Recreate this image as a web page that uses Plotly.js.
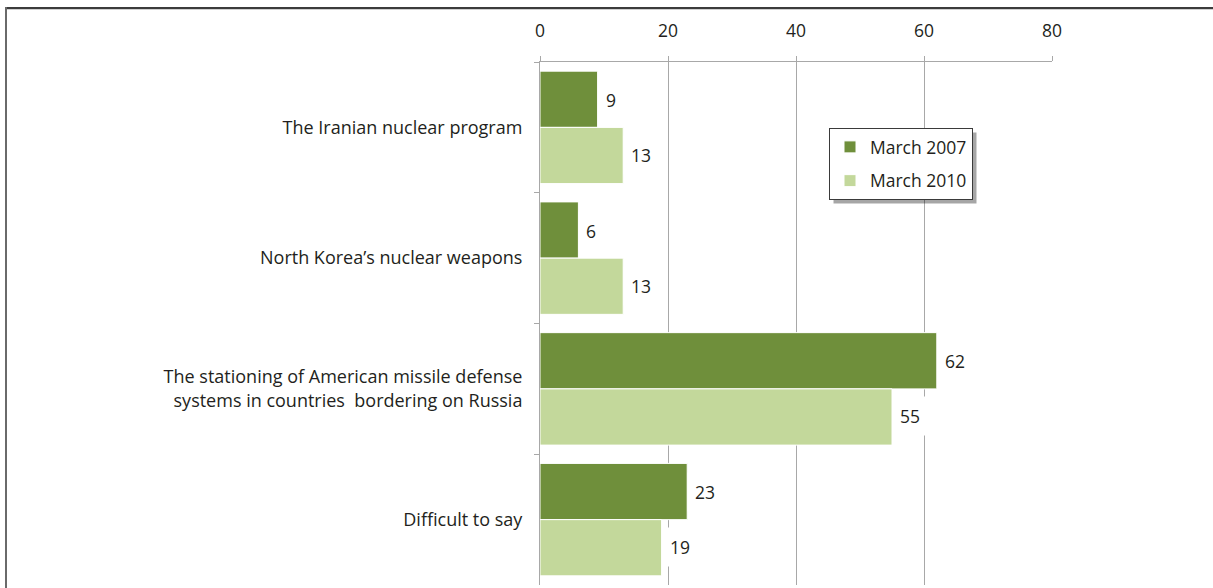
<!DOCTYPE html>
<html>
<head>
<meta charset="utf-8">
<script src="https://cdn.plot.ly/plotly-3.0.1.min.js"></script>
<style>
  html, body { margin: 0; padding: 0; background: #fff; overflow: hidden; }
  #chart { width: 1213px; height: 588px; }
</style>
</head>
<body>
<div id="chart"></div>
<script>
const categories = [
  "The Iranian nuclear program",
  "North Korea’s nuclear weapons",
  "The stationing of American missile defense<br>systems in countries  bordering on Russia",
  "Difficult to say"
];
const seriesNames = ["March 2007", "March 2010"];
const values2007 = [9, 6, 62, 23];
const values2010 = [13, 13, 55, 19];
const xTicks = [0, 20, 40, 60, 80];

const FONT = "Open Sans, sans-serif";
const TXT = "#231f20";
const colors = ["#6f8f3b", "#c3d89b"];
const seriesValues = [values2007, values2010];

const M = { l: 540, r: 161, t: 62, b: 3 };
const W = 1213, H = 588;
const PW = W - M.l - M.r, PH = H - M.t - M.b;
const px = p => (p - M.l) / PW;
const py = p => 1 - (p - M.t) / PH;

const traces = seriesValues.map((vals, i) => ({
  type: "bar",
  orientation: "h",
  name: seriesNames[i],
  legendgroup: "g" + i,
  x: vals,
  y: categories,
  marker: { color: colors[i], line: { color: "#ffffff", width: 1 } },
  hoverinfo: "x+name"
}));

const annotations = [];
seriesValues.forEach((vals, i) => {
  vals.forEach((v, j) => {
    annotations.push({
      x: v, y: categories[j], xref: "x", yref: "y",
      text: String(v), showarrow: false,
      xanchor: "left", yanchor: "middle",
      yshift: i === 0 ? 27.5 : -27.5,
      bgcolor: "#ffffff", borderpad: 7,
      font: { family: FONT, size: 17.5, color: TXT }
    });
  });
});

const frameShapes = [
  { type: "line", xref: "paper", yref: "paper", layer: "above",
    x0: px(5), x1: px(1214), y0: py(8), y1: py(8), line: { color: "#3c3c3c", width: 2 } },
  { type: "line", xref: "paper", yref: "paper", layer: "above",
    x0: px(7), x1: px(1214), y0: py(9.5), y1: py(9.5), line: { color: "#d0d0d0", width: 1 } },
  { type: "line", xref: "paper", yref: "paper", layer: "above",
    x0: px(6), x1: px(6), y0: py(7), y1: py(589), line: { color: "#6a6a6a", width: 2 } }
];

const layout = {
  width: W, height: H,
  margin: { l: M.l, r: M.r, t: M.t, b: M.b, pad: 0 },
  paper_bgcolor: "#ffffff", plot_bgcolor: "#ffffff",
  barmode: "group", bargap: 0.14, bargroupgap: 0,
  font: { family: FONT, size: 17.5, color: TXT },
  showlegend: true,
  legend: {
    x: px(829), y: py(128), xanchor: "left", yanchor: "top",
    bgcolor: "#ffffff", bordercolor: "#3a3a3a", borderwidth: 1,
    font: { family: FONT, size: 17.5, color: TXT },
    traceorder: "grouped", tracegroupgap: 8, itemwidth: 30
  },
  xaxis: {
    side: "top", range: [0, 80], tickvals: xTicks, ticktext: xTicks.map(String),
    showgrid: true, gridcolor: "#a8a8a8", gridwidth: 1,
    zeroline: false, showline: true, linecolor: "#a8a8a8", linewidth: 1,
    ticks: "outside", ticklen: 5, tickcolor: "#a8a8a8",
    ticklabelstandoff: 12,
    tickfont: { family: FONT, size: 17.5, color: TXT }, fixedrange: true
  },
  yaxis: {
    type: "category", autorange: "reversed",
    tickson: "boundaries", ticks: "outside", ticklen: 5, tickcolor: "#a8a8a8",
    showline: true, linecolor: "#a8a8a8", linewidth: 1, showgrid: false,
    ticklabelstandoff: 13,
    tickfont: { family: FONT, size: 18, color: TXT }, fixedrange: true
  },
  annotations: annotations,
  shapes: frameShapes
};

Plotly.newPlot("chart", traces, layout, { displayModeBar: false, staticPlot: true }).then(gd => {
  const bg = gd.querySelector(".legend .bg");
  if (!bg) return;
  const rb = bg.getBoundingClientRect();
  const cb = gd.getBoundingClientRect();
  const l = rb.left - cb.left, t = rb.top - cb.top, r = rb.right - cb.left, b = rb.bottom - cb.top;
  Plotly.relayout(gd, {
    shapes: frameShapes.concat([{
      type: "rect", xref: "paper", yref: "paper", layer: "above",
      x0: px(l + 4), x1: px(r + 4), y0: py(t + 4), y1: py(b + 4),
      fillcolor: "rgba(0,0,0,0.35)", line: { width: 0 }
    }])
  });
});
</script>
</body>
</html>
